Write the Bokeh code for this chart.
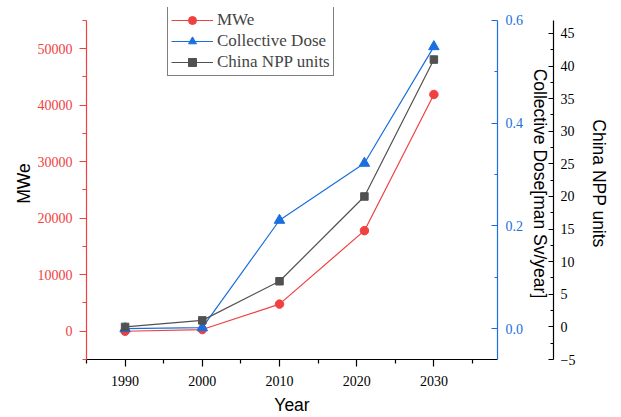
from bokeh.plotting import figure
from bokeh.models import (Range1d, LinearAxis, FixedTicker, PrintfTickFormatter,
                          Legend, LegendItem)
from bokeh.embed import file_html
from bokeh.resources import INLINE

# ---- data ----
years = [1990, 2000, 2010, 2021, 2030]
mwe = [0, 300, 4800, 17800, 41900]
dose = [0.0, 0.002, 0.211, 0.322, 0.549]
units = [0, 1, 7, 20, 41]

x_ticks = [1990, 2000, 2010, 2020, 2030, 2040]
x_minor = [1985, 1995, 2005, 2015, 2025, 2035]
mwe_ticks = [0, 10000, 20000, 30000, 40000, 50000]
mwe_minor = [-5000, 5000, 15000, 25000, 35000, 45000, 55000]
dose_ticks = [0.0, 0.2, 0.4, 0.6]
dose_minor = [0.1, 0.3, 0.5]
unit_ticks = [-5, 0, 5, 10, 15, 20, 25, 30, 35, 40, 45]
unit_minor = [-2.5, 2.5, 7.5, 12.5, 17.5, 22.5, 27.5, 32.5, 37.5, 42.5]

# axis extents (the drawn axis lines)
mwe_bounds = (-5000, 55000)
dose_bounds = (-0.06, 0.6)
unit_bounds = (-5, 47)

RED = "#F14040"
BLUE = "#1A6FDF"
GRAY = "#515151"
SERIF = "Liberation Serif"
SANS = "Liberation Sans"

FRAME_LEFT, FRAME_TOP, AXIS_TOP, FRAME_BOTTOM = 86, 7, 20, 361
axis_h = FRAME_BOTTOM - AXIS_TOP


def ext(b):
    lo, hi = b
    return Range1d(lo, hi + (hi - lo) * (AXIS_TOP - FRAME_TOP) / axis_h)


p = figure(width=621, height=417, output_backend="svg", toolbar_location=None,
           title=None,
           x_range=Range1d(1985, 2038.24), y_range=ext(mwe_bounds),
           min_border_left=FRAME_LEFT, min_border_right=124, min_border_top=FRAME_TOP,
           min_border_bottom=417 - FRAME_BOTTOM)
p.outline_line_color = None
p.grid.visible = False
p.background_fill_color = "white"
p.border_fill_color = "white"
p.extra_y_ranges = {"dose": ext(dose_bounds), "units": ext(unit_bounds)}


def style_axis(ax, color, label_color, tick_in, tick_out, minor_in, minor_out,
               standoff, label_standoff):
    ax.axis_line_color = color
    ax.axis_line_width = 1.2
    ax.major_tick_line_color = color
    ax.minor_tick_line_color = color
    ax.major_tick_line_width = 1.2
    ax.minor_tick_line_width = 1.2
    ax.major_tick_in = tick_in
    ax.major_tick_out = tick_out
    ax.minor_tick_in = minor_in
    ax.minor_tick_out = minor_out
    ax.major_label_text_font = SERIF
    ax.major_label_text_font_size = "14px"
    ax.major_label_text_color = label_color
    ax.major_label_standoff = standoff
    ax.axis_label_text_font = SANS
    ax.axis_label_text_font_size = "17.5px"
    ax.axis_label_text_font_style = "normal"
    ax.axis_label_text_color = "black"
    ax.axis_label_standoff = label_standoff


# x axis
xa = p.xaxis[0]
xa.ticker = FixedTicker(ticks=x_ticks, minor_ticks=x_minor)
xa.axis_label = "Year"
style_axis(xa, "black", "black", 0, 7, 0, 4, 9, 6)

# left MWe axis
ya = p.yaxis[0]
ya.ticker = FixedTicker(ticks=mwe_ticks, minor_ticks=mwe_minor)
ya.axis_label = "MWe"
ya.bounds = mwe_bounds
style_axis(ya, RED, RED, 0, 7, 0, 4, 7, 1)

# right collective dose axis
ax_d = LinearAxis(y_range_name="dose", axis_label="Collective Dose[man Sv/year]",
                  ticker=FixedTicker(ticks=dose_ticks, minor_ticks=dose_minor),
                  formatter=PrintfTickFormatter(format="%.1f"), bounds=dose_bounds)
style_axis(ax_d, BLUE, BLUE, 6, 0, 3, 0, 8, 4)
p.add_layout(ax_d, "right")

# right NPP units axis
ax_u = LinearAxis(y_range_name="units", axis_label="China NPP units",
                  ticker=FixedTicker(ticks=unit_ticks, minor_ticks=unit_minor),
                  bounds=unit_bounds)
style_axis(ax_u, "black", "black", 5, 0, 3, 0, 7, 11)
p.add_layout(ax_u, "right")

# series
l1 = p.line(years, mwe, line_color=RED, line_width=1.2)
s1 = p.scatter(years, mwe, marker="circle", size=8.5, fill_color=RED, line_color=RED)
l2 = p.line(years, dose, y_range_name="dose", line_color=BLUE, line_width=1.2)
s2 = p.scatter(years, dose, y_range_name="dose", marker="triangle", size=10.5,
               fill_color=BLUE, line_color=BLUE)
l3 = p.line(years, units, y_range_name="units", line_color=GRAY, line_width=1.2)
s3 = p.scatter(years, units, y_range_name="units", marker="square", size=7.5,
               fill_color=GRAY, line_color=GRAY)

legend = Legend(items=[
    LegendItem(label="MWe", renderers=[l1, s1]),
    LegendItem(label="Collective Dose", renderers=[l2, s2]),
    LegendItem(label="China NPP units", renderers=[l3, s3]),
], location=(81, 283))
legend.label_text_font = SERIF
legend.label_text_font_size = "17px"
legend.border_line_color = "black"
legend.border_line_width = 1
legend.background_fill_color = "white"
legend.background_fill_alpha = 1
legend.padding = 3
legend.spacing = 1
legend.margin = 0
legend.glyph_width = 42
legend.glyph_height = 20
legend.label_height = 20
legend.label_standoff = 4
p.add_layout(legend)

open("out.html", "w").write(file_html(p, INLINE))
